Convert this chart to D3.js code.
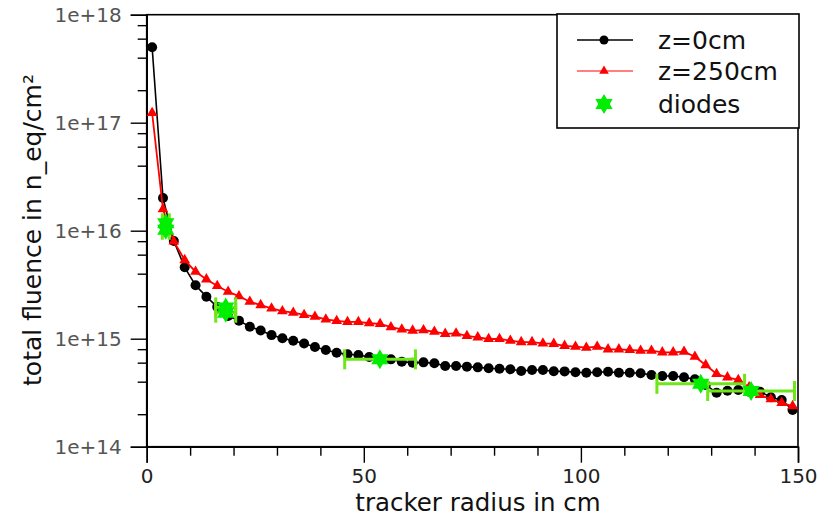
<!DOCTYPE html>
<html>
<head>
<meta charset="utf-8">
<script src="https://cdn.jsdelivr.net/npm/d3@7"></script>
<style>
  html, body { margin: 0; padding: 0; background: #fff; }
  svg { display: block; font-family: "DejaVu Sans", sans-serif; }
</style>
</head>
<body>
<svg id="chart" width="829" height="517"></svg>
<script>
// Tracker radius bin centres (cm)
const radius = [1.25, 3.75, 6.25, 8.75, 11.25, 13.75, 16.25, 18.75, 21.25, 23.75,
  26.25, 28.75, 31.25, 33.75, 36.25, 38.75, 41.25, 43.75, 46.25, 48.75,
  51.25, 53.75, 56.25, 58.75, 61.25, 63.75, 66.25, 68.75, 71.25, 73.75,
  76.25, 78.75, 81.25, 83.75, 86.25, 88.75, 91.25, 93.75, 96.25, 98.75,
  101.25, 103.75, 106.25, 108.75, 111.25, 113.75, 116.25, 118.75, 121.25, 123.75,
  126.25, 128.75, 131.25, 133.75, 136.25, 138.75, 141.25, 143.75, 146.25, 148.75];

// Total fluence at z = 0 cm (n_eq/cm^2)
const fluenceZ0 = [5.0e17, 2.01e16, 8.03e15, 4.58e15, 3.12e15, 2.45e15, 1.97e15, 1.62e15, 1.47e15, 1.29e15,
  1.19e15, 1.08e15, 1.01e15, 9.58e14, 9.03e14, 8.38e14, 7.86e14, 7.42e14, 7.18e14, 7.07e14,
  6.78e14, 6.49e14, 6.44e14, 6.12e14, 6.00e14, 6.04e14, 5.92e14, 5.59e14, 5.59e14, 5.51e14,
  5.43e14, 5.32e14, 5.27e14, 5.21e14, 5.02e14, 5.13e14, 5.13e14, 5.00e14, 4.98e14, 4.89e14,
  4.84e14, 4.89e14, 4.95e14, 4.84e14, 4.84e14, 4.78e14, 4.61e14, 4.52e14, 4.52e14, 4.39e14,
  4.21e14, 3.73e14, 3.16e14, 3.30e14, 3.35e14, 3.23e14, 3.23e14, 2.87e14, 2.70e14, 2.19e14];

// Total fluence at z = 250 cm (n_eq/cm^2)
const fluenceZ250 = [1.23e17, 1.58e16, 7.94e15, 5.35e15, 4.17e15, 3.55e15, 3.08e15, 2.72e15, 2.48e15, 2.20e15,
  2.05e15, 1.91e15, 1.80e15, 1.74e15, 1.66e15, 1.60e15, 1.51e15, 1.46e15, 1.43e15, 1.43e15,
  1.39e15, 1.37e15, 1.28e15, 1.22e15, 1.19e15, 1.20e15, 1.16e15, 1.11e15, 1.12e15, 1.06e15,
  1.03e15, 9.94e14, 9.94e14, 9.58e14, 9.31e14, 9.31e14, 9.06e14, 8.97e14, 8.60e14, 8.44e14,
  8.26e14, 8.44e14, 7.98e14, 7.98e14, 7.86e14, 7.74e14, 7.74e14, 7.48e14, 7.48e14, 7.58e14,
  6.81e14, 5.70e14, 4.71e14, 4.39e14, 4.15e14, 3.55e14, 3.01e14, 2.75e14, 2.55e14, 2.38e14];

// Diode measurements: position, radial extent and fluence
const diodeR      = [4.4, 4.4, 18.2, 18.2, 53.7, 127.6, 139.2];
const diodeRLow   = [3.6, 3.6, 15.9, 15.9, 45.6, 117.5, 129.2];
const diodeRHigh  = [5.2, 5.2, 20.5, 20.5, 61.9, 137.7, 149.2];
const diodeFluence = [1.17e16, 1.02e16, 1.95e15, 1.74e15, 6.44e14, 3.82e14, 3.28e14];

// Axis ticks
const xMajorTicks = [0, 50, 100, 150];
const xMinorTicks = [10, 20, 30, 40, 60, 70, 80, 90, 110, 120, 130, 140];
const yMajorTicks = [1e14, 1e15, 1e16, 1e17, 1e18];
const yTickLabels = ["1e+14", "1e+15", "1e+16", "1e+17", "1e+18"];
const yMinorTicks = [2e14, 4e14, 6e14, 8e14, 2e15, 4e15, 6e15, 8e15,
  2e16, 4e16, 6e16, 8e16, 2e17, 4e17, 6e17, 8e17];

const seriesNames = ["z=0cm", "z=250cm", "diodes"];

const svg = d3.select("#chart");
const plotLeft = 146.7, plotRight = 798, plotTop = 14.7, plotBottom = 446.7;

const x = d3.scaleLinear().domain([0, 150]).range([plotLeft, plotRight]);
const y = d3.scaleLog().domain([1e14, 1e18]).range([plotBottom, plotTop]);

// plot frame
svg.append("rect")
  .attr("x", plotLeft).attr("y", plotTop)
  .attr("width", plotRight - plotLeft).attr("height", plotBottom - plotTop)
  .attr("fill", "none").attr("stroke", "#000").attr("stroke-width", 1.6);

// x axis
const xAxis = svg.append("g").attr("transform", `translate(0,${plotBottom})`);
xAxis.append("g")
  .call(d3.axisBottom(x).tickValues(xMajorTicks).tickSize(16).tickFormat(d3.format("d")))
  .call(g => g.select(".domain").attr("stroke-width", 1.6))
  .call(g => g.selectAll(".tick line").attr("stroke-width", 1.4))
  .call(g => g.selectAll(".tick text")
    .attr("y", 36).attr("dy", null)
    .attr("font-size", 20).attr("fill", "#222")
    .attr("font-family", "DejaVu Sans, sans-serif"));
xAxis.append("g")
  .call(d3.axisBottom(x).tickValues(xMinorTicks).tickSize(9).tickFormat(""))
  .call(g => g.select(".domain").remove())
  .call(g => g.selectAll(".tick line").attr("stroke-width", 1.4));

// y axis
const yAxis = svg.append("g").attr("transform", `translate(${plotLeft},0)`);
yAxis.append("g")
  .call(d3.axisLeft(y).tickValues(yMajorTicks).tickSize(16)
    .tickFormat((d, i) => yTickLabels[i]))
  .call(g => g.select(".domain").attr("stroke-width", 1.6))
  .call(g => g.selectAll(".tick line").attr("stroke-width", 1.4))
  .call(g => g.selectAll(".tick text")
    .attr("x", -25).attr("dy", "0.35em")
    .attr("font-size", 20).attr("fill", "#555")
    .attr("font-family", "DejaVu Sans, sans-serif"));
yAxis.append("g")
  .call(d3.axisLeft(y).tickValues(yMinorTicks).tickSize(9).tickFormat(""))
  .call(g => g.select(".domain").remove())
  .call(g => g.selectAll(".tick line").attr("stroke-width", 1.4));

// axis titles
svg.append("text")
  .attr("x", 478).attr("y", 510.5)
  .attr("text-anchor", "middle").attr("font-size", 24.5).attr("fill", "#111")
  .text("tracker radius in cm");
svg.append("text")
  .attr("transform", "translate(41,230) rotate(-90)")
  .attr("text-anchor", "middle").attr("font-size", 25).attr("fill", "#111")
  .text("total fluence in n_eq/cm²");

// hexagram marker for diodes
function hexagram(R) {
  const pts = [];
  for (let k = 0; k < 12; k++) {
    const a = (-90 + 30 * k) * Math.PI / 180;
    const r = k % 2 === 0 ? R : R / Math.sqrt(3);
    pts.push([r * Math.cos(a), r * Math.sin(a)]);
  }
  return "M" + pts.map(p => p.join(",")).join("L") + "Z";
}

const line = d3.line().x(d => x(d[0])).y(d => y(d[1]));
const z0 = radius.map((r, i) => [r, fluenceZ0[i]]);
const z250 = radius.map((r, i) => [r, fluenceZ250[i]]);
const plot = svg.append("g");

// z = 0 cm
plot.append("path").datum(z0).attr("d", line)
  .attr("fill", "none").attr("stroke", "#000").attr("stroke-width", 1.6);
plot.selectAll("circle.z0").data(z0).join("circle")
  .attr("class", "z0")
  .attr("cx", d => x(d[0])).attr("cy", d => y(d[1])).attr("r", 5)
  .attr("fill", "#000");

// z = 250 cm
plot.append("path").datum(z250).attr("d", line)
  .attr("fill", "none").attr("stroke", "#f00").attr("stroke-width", 1.8);
plot.selectAll("path.z250").data(z250).join("path")
  .attr("class", "z250")
  .attr("transform", d => `translate(${x(d[0])},${y(d[1])})`)
  .attr("d", d3.symbol(d3.symbolTriangle, 50))
  .attr("fill", "#f00");

// diodes with radial extent
const diodes = diodeR.map((r, i) => ({ r, lo: diodeRLow[i], hi: diodeRHigh[i], f: diodeFluence[i] }));
const barColor = "#6ee61a";
const dg = plot.selectAll("g.diode").data(diodes).join("g").attr("class", "diode");
dg.append("line")
  .attr("x1", d => x(d.lo)).attr("x2", d => x(d.hi))
  .attr("y1", d => y(d.f)).attr("y2", d => y(d.f))
  .attr("stroke", barColor).attr("stroke-width", 3);
dg.append("line")
  .attr("x1", d => x(d.lo)).attr("x2", d => x(d.lo))
  .attr("y1", d => y(d.f) - 10).attr("y2", d => y(d.f) + 10)
  .attr("stroke", barColor).attr("stroke-width", 3);
dg.append("line")
  .attr("x1", d => x(d.hi)).attr("x2", d => x(d.hi))
  .attr("y1", d => y(d.f) - 10).attr("y2", d => y(d.f) + 10)
  .attr("stroke", barColor).attr("stroke-width", 3);
plot.selectAll("path.diode-star").data(diodes).join("path")
  .attr("class", "diode-star")
  .attr("transform", d => `translate(${x(d.r)},${y(d.f)})`)
  .attr("d", hexagram(10))
  .attr("fill", "#00ee00");

// legend
const lg = svg.append("g");
lg.append("rect").attr("x", 557).attr("y", 14).attr("width", 242).attr("height", 114)
  .attr("fill", "#fff").attr("stroke", "#000").attr("stroke-width", 1.6);
const rowY = [40, 71, 104];
lg.append("line").attr("x1", 577).attr("x2", 633).attr("y1", rowY[0]).attr("y2", rowY[0])
  .attr("stroke", "#000").attr("stroke-width", 1.4);
lg.append("circle").attr("cx", 604).attr("cy", rowY[0]).attr("r", 4.5).attr("fill", "#000");
lg.append("line").attr("x1", 577).attr("x2", 633).attr("y1", rowY[1]).attr("y2", rowY[1])
  .attr("stroke", "#f00").attr("stroke-width", 1);
lg.append("path").attr("transform", `translate(604,${rowY[1]})`)
  .attr("d", d3.symbol(d3.symbolTriangle, 40)).attr("fill", "#f00");
lg.append("path").attr("transform", `translate(604,${rowY[2]})`)
  .attr("d", hexagram(10)).attr("fill", "#00ee00");
lg.selectAll("text").data(seriesNames).join("text")
  .attr("x", 658).attr("y", (d, i) => rowY[i] + 8.5)
  .attr("font-size", 25).attr("fill", "#111")
  .text(d => d);
</script>
</body>
</html>
